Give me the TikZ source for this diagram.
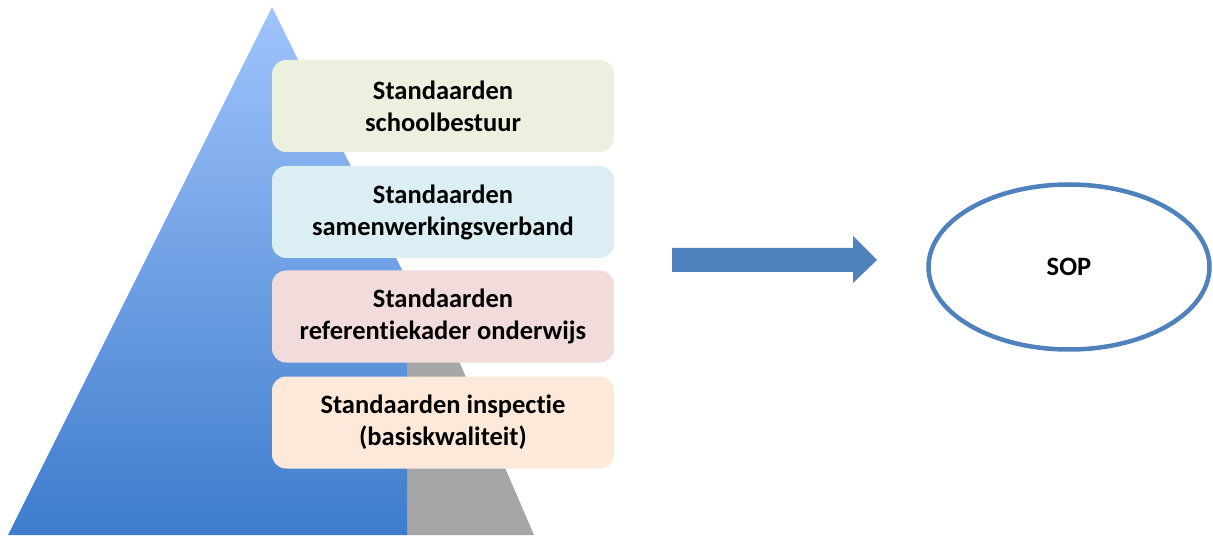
\documentclass[tikz,border=0pt]{standalone}
\usepackage{fontspec}
\setmainfont{Carlito}[Ligatures=NoCommon]
\usetikzlibrary{shapes.geometric}
\definecolor{blueTop}{RGB}{160,196,252}
\definecolor{blueBot}{RGB}{62,124,204}
\definecolor{sideGrey}{RGB}{166,166,166}
\definecolor{accent}{RGB}{79,129,189}
\definecolor{boxA}{RGB}{235,241,222}
\definecolor{boxB}{RGB}{219,238,244}
\definecolor{boxC}{RGB}{242,220,219}
\definecolor{boxD}{RGB}{253,233,217}
\tikzset{
  levelbox/.style={rounded corners=14pt, minimum width=342pt, minimum height=92pt,
    align=center, font=\fontsize{26.5}{32}\selectfont\bfseries, inner sep=0pt, draw=none},
  soptext/.style={font=\fontsize{26.5}{32}\selectfont\bfseries}
}
\begin{document}
\begin{tikzpicture}[x=1pt,y=-1pt]
\useasboundingbox (0,0) rectangle (1213,537);
% grey side face
\fill[sideGrey] (407,280) -- (407,535) -- (534,535) -- (424,280) -- cycle;
% blue front face
\shade[top color=blueTop, bottom color=blueBot] (8,535) -- (272,7) -- (407,280) -- (407,535) -- cycle;
% level boxes
\node[levelbox, fill=boxA] (b1) at (443,106) {Standaarden\\schoolbestuur};
\node[levelbox, fill=boxB] (b2) at (443,212) {Standaarden\\samenwerkingsverband};
\node[levelbox, fill=boxC] (b3) at (443,316.5) {Standaarden\\referentiekader onderwijs};
\node[levelbox, fill=boxD] (b4) at (443,422.5) {Standaarden inspectie\\(basiskwaliteit)};
% block arrow
\fill[accent] (672,248) -- (853,248) -- (853,236) -- (877,260) -- (853,283) -- (853,272) -- (672,272) -- cycle;
% SOP ellipse
\node[ellipse, draw=accent, line width=4.5pt, minimum width=281pt, minimum height=165pt, soptext] (sop) at (1069,267) {SOP};
\end{tikzpicture}
\end{document}
